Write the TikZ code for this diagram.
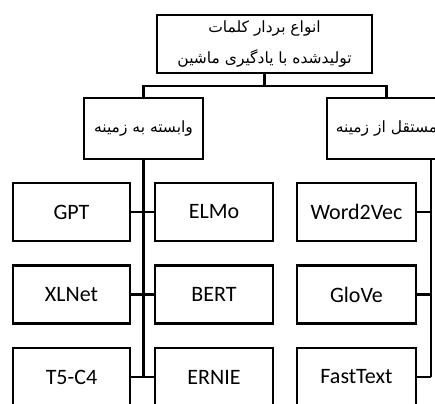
\documentclass[tikz,border=0pt]{standalone}
\usepackage{fontspec}
\setmainfont{Carlito}
\newfontfamily\fafont[Script=Arabic]{DejaVu Sans}
\TeXXeTstate=1
\begin{document}
\begin{tikzpicture}[x=1pt,y=1pt,
  box/.style={draw=black, line width=2.6pt, fill=white, inner sep=0pt,
    minimum height=58pt},
  wide/.style={box, minimum width=119pt},
  fa/.style={font=\fafont\fontsize{15.5}{31}\selectfont},
  en/.style={font=\fontsize{22}{26}\selectfont},
  link/.style={draw=black, line width=2.6pt}]
\useasboundingbox (0,0) rectangle (435,403);
\begin{scope}
\clip (0,0) rectangle (435,403);

% root
\node[box, fa, minimum width=215pt, align=center] (root) at (264.5,359)
  {\beginR انواع بردار کلمات\endR\\ \beginR تولیدشده با یادگیری ماشین\endR};

% the two families
\node[wide, fa, minimum height=61pt] (dep) at (143.5,274.5) {\beginR وابسته به زمینه\endR};
\node[wide, fa, minimum height=61pt] (indep) at (386.5,274.5) {\beginR مستقل از زمینه\endR};

% contextual models
\node[box, en, minimum width=117pt] (gpt)   at (71.5,191)   {GPT};
\node[box, en, minimum width=117pt] (xlnet) at (71.5,108.5) {XLNet};
\node[box, en, minimum width=117pt] (t5)    at (71.5,26)    {T5-C4};
\node[box, en, minimum width=118pt] (elmo)  at (214,191)    {ELMo};
\node[box, en, minimum width=118pt] (bert)  at (214,108.5)  {BERT};
\node[box, en, minimum width=118pt] (ernie) at (214,26)     {ERNIE};

% static models
\node[wide, en] (w2v)   at (356.5,191)   {Word2Vec};
\node[wide, en] (glove) at (356.5,108.5) {GloVe};
\node[wide, en] (ft)    at (356.5,26)    {FastText};

% root to families
\coordinate (bus) at (264.5,317);
\draw[link] (root.south) -- (bus);
\draw[link] (dep.north) |- (bus) -| (indep.north);

% contextual spine
\draw[link] (dep.south) -- (dep.south |- t5.east);
\draw[link] (gpt.east) -- (elmo.west);
\draw[link] (xlnet.east) -- (bert.west);
\draw[link] (t5.east) -- (ernie.west);

% static spine
\coordinate (rspine) at (431,26);
\draw[link] (indep.south -| rspine) -- (rspine);
\draw[link] (w2v.east) -- (w2v.east -| rspine);
\draw[link] (glove.east) -- (glove.east -| rspine);
\draw[link] (ft.east) -- (rspine);
\end{scope}
\end{tikzpicture}
\end{document}
